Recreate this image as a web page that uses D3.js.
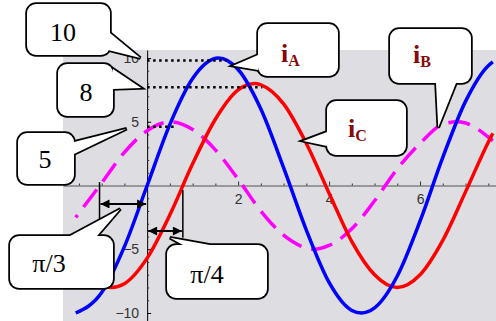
<!DOCTYPE html>
<html>
<head>
<meta charset="utf-8">
<script src="https://cdn.jsdelivr.net/npm/d3@7"></script>
<style>
  body { margin: 0; background: #fff; }
  svg { display: block; }
</style>
</head>
<body>
<svg id="chart" width="496" height="321"></svg>
<script>
// values (t in rad, current in A)
var tA = [-1.57, -1, -0.5, 0, 0.5, 1, 1.57, 2, 2.5, 3, 3.5, 4, 4.5, 4.71, 5, 5.5, 6, 6.5, 7, 7.5, 7.6];
var iA = [-10, -8.4, -4.8, 0, 4.8, 8.4, 10, 9.1, 6, 1.4, -3.5, -7.6, -9.8, -10, -9.6, -7.1, -2.8, 2.2, 6.6, 9.4, 9.7];

var tB = [-1.57, -1, -0.5, 0, 0.52, 1, 1.5, 2, 2.5, 3, 3.5, 3.67, 4, 4.5, 5, 5.5, 6, 6.5, 6.81, 7, 7.5, 7.6];
var iB = [-2.5, 0.2, 2.6, 4.3, 5, 4.4, 2.8, 0.5, -2, -3.9, -4.9, -5, -4.7, -3.4, -1.2, 1.3, 3.3, 4.8, 5, 4.9, 3.8, 3.5];

var tC = [-1, -0.79, -0.5, 0, 0.5, 1, 1.5, 2, 2.36, 2.5, 3, 3.5, 4, 4.5, 5, 5.5, 6, 6.5, 7, 7.5, 7.6];
var iC = [-7.8, -8, -7.7, -5.7, -2.3, 1.7, 5.2, 7.5, 8, 7.9, 6.4, 3.3, -0.6, -4.4, -7, -8, -7, -4.3, -0.5, 3.4, 4.1];

var xTicks = [2, 4, 6];
var yTicks = [-10, -5, 5, 10];

// dotted amplitude guides
var guideLevels = [9.8, 7.7, 4.6];
var guideEnds = [1.75, 2.53, 0.62];

// phase shift markers: pi/3 and pi/4
var shiftFrom = [-1.047, 0];
var shiftTo = [0, 0.785];
var shiftArrowY = [-1.45, -3.57];

var svg = d3.select("#chart");

var x = d3.scaleLinear().domain([-1.85, 7.67]).range([63, 496]);
var y = d3.scaleLinear().domain([-10.63, 10.63]).range([321, 50]);

// plot background
svg.append("rect")
  .attr("x", 63).attr("y", 50)
  .attr("width", 433).attr("height", 271)
  .attr("fill", "#dddde2");

// x axis (ticks point up, labels below)
var gx = svg.append("g")
  .attr("transform", "translate(0," + y(0) + ")")
  .call(d3.axisBottom(x).tickValues(xTicks).tickSize(-4).tickSizeOuter(0).tickPadding(9));
gx.select(".domain").attr("stroke", "#555");
gx.selectAll(".tick line").attr("stroke", "#333");
gx.selectAll("text").attr("font-family", "Liberation Sans").attr("font-size", 14).attr("fill", "#333");

svg.append("g")
  .attr("transform", "translate(0," + y(0) + ")")
  .call(d3.axisBottom(x).tickValues(d3.range(-1.5, 7.6, 0.5).filter(function(d) { return xTicks.indexOf(d) < 0 && d != 0; }))
    .tickSize(-2).tickFormat("").tickSizeOuter(0))
  .call(function(g) { g.select(".domain").remove(); })
  .selectAll("line").attr("stroke", "#333");

// y axis (ticks point right, labels left)
var gy = svg.append("g")
  .attr("transform", "translate(" + x(0) + ",0)")
  .call(d3.axisLeft(y).tickValues(yTicks).tickSize(-4).tickSizeOuter(0).tickPadding(8));
gy.select(".domain").attr("stroke", "#000");
gy.selectAll("text").attr("font-family", "Liberation Sans").attr("font-size", 14).attr("fill", "#333");

svg.append("g")
  .attr("transform", "translate(" + x(0) + ",0)")
  .call(d3.axisLeft(y).tickValues(d3.range(-10, 11, 1).filter(function(d) { return d % 5 != 0; }))
    .tickSize(-2).tickFormat("").tickSizeOuter(0))
  .call(function(g) { g.select(".domain").remove(); })
  .selectAll("line").attr("stroke", "#333");

// curves
var line = d3.line()
  .x(function(d) { return x(d[0]); })
  .y(function(d) { return y(d[1]); })
  .curve(d3.curveMonotoneX);

svg.append("path")
  .datum(d3.zip(tB, iB))
  .attr("d", line)
  .attr("fill", "none")
  .attr("stroke", "#ff00ff")
  .attr("stroke-width", 3.5)
  .attr("stroke-dasharray", "22,10")
  .attr("stroke-dashoffset", 19);

svg.append("path")
  .datum(d3.zip(tC, iC))
  .attr("d", line)
  .attr("fill", "none")
  .attr("stroke", "#ff0000")
  .attr("stroke-width", 3.5);

svg.append("path")
  .datum(d3.zip(tA, iA))
  .attr("d", line)
  .attr("fill", "none")
  .attr("stroke", "#0000ff")
  .attr("stroke-width", 3.5);

// dotted guides
svg.selectAll(".guide")
  .data(guideLevels)
  .enter().append("line")
  .attr("x1", x(0))
  .attr("x2", function(d, i) { return x(guideEnds[i]); })
  .attr("y1", function(d) { return y(d); })
  .attr("y2", function(d) { return y(d); })
  .attr("stroke", "#000")
  .attr("stroke-width", 2.5)
  .attr("stroke-dasharray", "2.5,3.5");

// arrow heads
svg.append("defs").append("marker")
  .attr("id", "head")
  .attr("viewBox", "0 0 10 10")
  .attr("refX", 10).attr("refY", 5)
  .attr("markerWidth", 11).attr("markerHeight", 9)
  .attr("markerUnits", "userSpaceOnUse")
  .attr("orient", "auto-start-reverse")
  .append("path").attr("d", "M0,0L10,5L0,10Z").attr("fill", "#000");

// vertical marks of the phase shifts
svg.append("line")
  .attr("x1", x(shiftFrom[0])).attr("x2", x(shiftFrom[0]))
  .attr("y1", y(0.27)).attr("y2", y(-3.25))
  .attr("stroke", "#000").attr("stroke-width", 1.5);
svg.append("line")
  .attr("x1", x(shiftTo[1])).attr("x2", x(shiftTo[1]))
  .attr("y1", y(-0.35)).attr("y2", y(-4.1))
  .attr("stroke", "#000").attr("stroke-width", 1.5);

svg.selectAll(".shift")
  .data(shiftArrowY)
  .enter().append("line")
  .attr("x1", function(d, i) { return x(shiftFrom[i]) + 1; })
  .attr("x2", function(d, i) { return x(shiftTo[i]) - 1; })
  .attr("y1", function(d) { return y(d); })
  .attr("y2", function(d) { return y(d); })
  .attr("stroke", "#000")
  .attr("stroke-width", 2)
  .attr("marker-start", "url(#head)")
  .attr("marker-end", "url(#head)");

// callouts: box in px, wedge base in px, tip in data coords
var callouts = [
  {box: [27, 4, 83, 51], base: [[110, 33], [108, 50]], tip: [-0.15, 10.0], text: "10", tx: 63, ty: 41},
  {box: [58, 64, 55, 52], base: [[113, 69], [113, 89]], tip: [-0.13, 7.65], text: "8", tx: 86, ty: 101},
  {box: [18, 133, 56, 51], base: [[74, 142], [74, 154]], tip: [-0.45, 4.45], text: "5", tx: 45, ty: 168},
  {box: [258, 24, 80, 52], base: [[258, 55], [258, 70]], tip: [1.89, 9.4], sub: "A", tx: 281, ty: 62},
  {box: [390, 29, 81, 54], base: [[436, 83], [456, 83]], tip: [6.4, 4.55], sub: "B", tx: 413, ty: 63},
  {box: [327, 101, 79, 54], base: [[327, 132], [327, 146]], tip: [3.43, 3.5], sub: "C", tx: 348, ty: 137},
  {box: [10, 236, 103, 52], base: [[70, 236], [97, 236]], tip: [-0.59, -1.84], text: "\u03c0/3", tx: 49, ty: 272},
  {box: [167, 245, 100, 53], base: [[183, 245], [210, 245]], tip: [0.5, -4.1], text: "\u03c0/4", tx: 207, ty: 283}
];

function wedge(c) {
  return [c.base[0], [x(c.tip[0]), y(c.tip[1])], c.base[1]].join(" ");
}

var cg = svg.selectAll(".callout").data(callouts).enter().append("g");

// outline layer, then white fill on top so only the outer border shows
cg.append("rect")
  .attr("x", function(c) { return c.box[0]; }).attr("y", function(c) { return c.box[1]; })
  .attr("width", function(c) { return c.box[2]; }).attr("height", function(c) { return c.box[3]; })
  .attr("rx", 9)
  .attr("fill", "#fff").attr("stroke", "#000").attr("stroke-width", 3.5);
cg.append("polygon")
  .attr("points", wedge)
  .attr("fill", "#fff").attr("stroke", "#000").attr("stroke-width", 3.5)
  .attr("stroke-linejoin", "miter");
cg.append("rect")
  .attr("x", function(c) { return c.box[0]; }).attr("y", function(c) { return c.box[1]; })
  .attr("width", function(c) { return c.box[2]; }).attr("height", function(c) { return c.box[3]; })
  .attr("rx", 9)
  .attr("fill", "#fff");
cg.append("polygon")
  .attr("points", wedge)
  .attr("fill", "#fff");

cg.filter(function(c) { return c.text; })
  .append("text")
  .attr("x", function(c) { return c.tx; })
  .attr("y", function(c) { return c.ty; })
  .attr("text-anchor", "middle")
  .attr("font-family", "Liberation Serif")
  .attr("font-size", 26)
  .attr("fill", "#000")
  .text(function(c) { return c.text; });

var lab = cg.filter(function(c) { return c.sub; })
  .append("text")
  .attr("x", function(c) { return c.tx; })
  .attr("y", function(c) { return c.ty; })
  .attr("font-family", "Liberation Serif")
  .attr("font-weight", "bold")
  .attr("fill", "#850a0a");
lab.append("tspan").attr("font-size", 26).text("i");
lab.append("tspan").attr("font-size", 16).attr("dy", 4).text(function(c) { return c.sub; });
</script>
</body>
</html>
